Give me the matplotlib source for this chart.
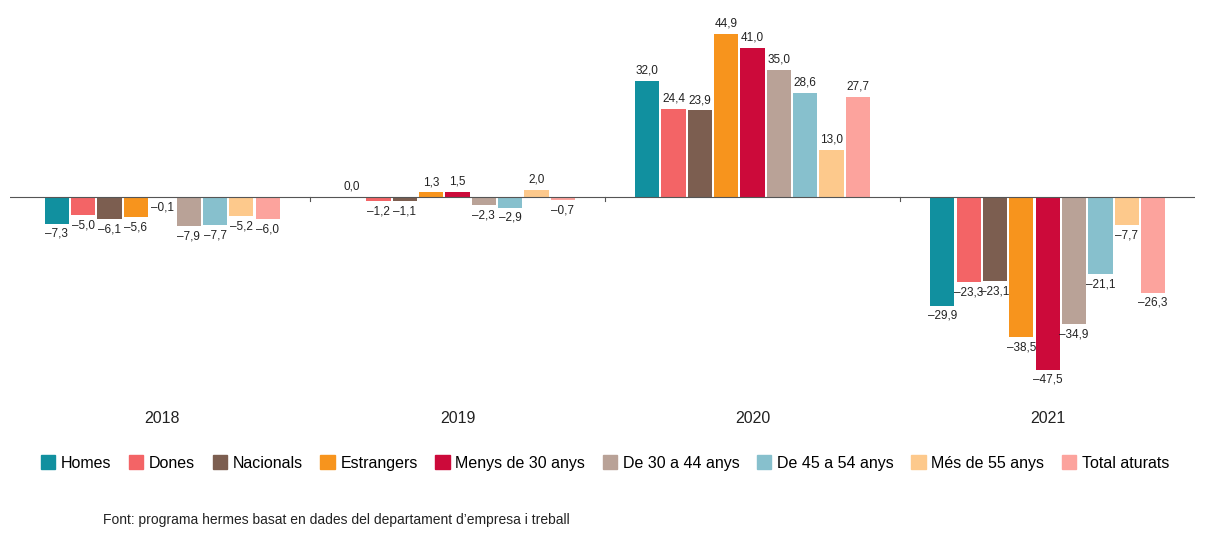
import numpy as np
import matplotlib.pyplot as plt
from matplotlib.patches import Patch

plt.rcParams['font.family'] = ['Liberation Sans', 'DejaVu Sans']

years = ['2018', '2019', '2020', '2021']
series = ['Homes', 'Dones', 'Nacionals', 'Estrangers', 'Menys de 30 anys',
          'De 30 a 44 anys', 'De 45 a 54 anys', 'Més de 55 anys', 'Total aturats']
colors = ['#11909f', '#f36466', '#7c5e50', '#f7941d', '#cc0a3a',
          '#b9a297', '#87c0cd', '#fdc98c', '#fca39d']
values = [
    [-7.3, -5.0, -6.1, -5.6, -0.1, -7.9, -7.7, -5.2, -6.0],
    [0.0, -1.2, -1.1, 1.3, 1.5, -2.3, -2.9, 2.0, -0.7],
    [32.0, 24.4, 23.9, 44.9, 41.0, 35.0, 28.6, 13.0, 27.7],
    [-29.9, -23.3, -23.1, -38.5, -47.5, -34.9, -21.1, -7.7, -26.3],
]

fig = plt.figure(figsize=(12.1, 5.35), dpi=100)
ax = fig.add_axes([10/1210, 1-400/535, 1185/1210, 380/535])

gap = 11.2
for gi, vals in enumerate(values):
    for si, v in enumerate(vals):
        x = gi*gap + (si-4)
        ax.bar(x, v, width=0.92, color=colors[si])
        txt = f'{abs(v):.1f}'.replace('.', ',')
        if v < 0:
            ax.text(x, v-1.2, '–'+txt, ha='center', va='top', fontsize=8.5, color='#222')
        else:
            ax.text(x, v+1.2, txt, ha='center', va='bottom', fontsize=8.5, color='#222')
    ax.text(gi*gap, -61, years[gi], ha='center', va='center', fontsize=11.5, color='#222')

ax.axhline(0, color='#555', lw=0.8)
for b in range(1, 4):
    ax.plot([b*gap-gap/2]*2, [0, -1.2], color='#555', lw=0.8)
ax.set_xlim(-5.78, 3*gap+5.59)
ax.set_ylim(-55.9, 48.8)
ax.axis('off')

handles = [Patch(color=c, label=s) for c, s in zip(colors, series)]
fig.legend(handles=handles, loc='center', bbox_to_anchor=(0.5, 1-463/535), ncol=9,
           frameon=False, fontsize=11.5, handlelength=0.9, handleheight=0.9,
           handletextpad=0.35, columnspacing=1.1)
fig.text(103/1210, 1-520/535, "Font: programa hermes basat en dades del departament d’empresa i treball",
         fontsize=10, color='#222', va='center')
fig.savefig('out.png')
